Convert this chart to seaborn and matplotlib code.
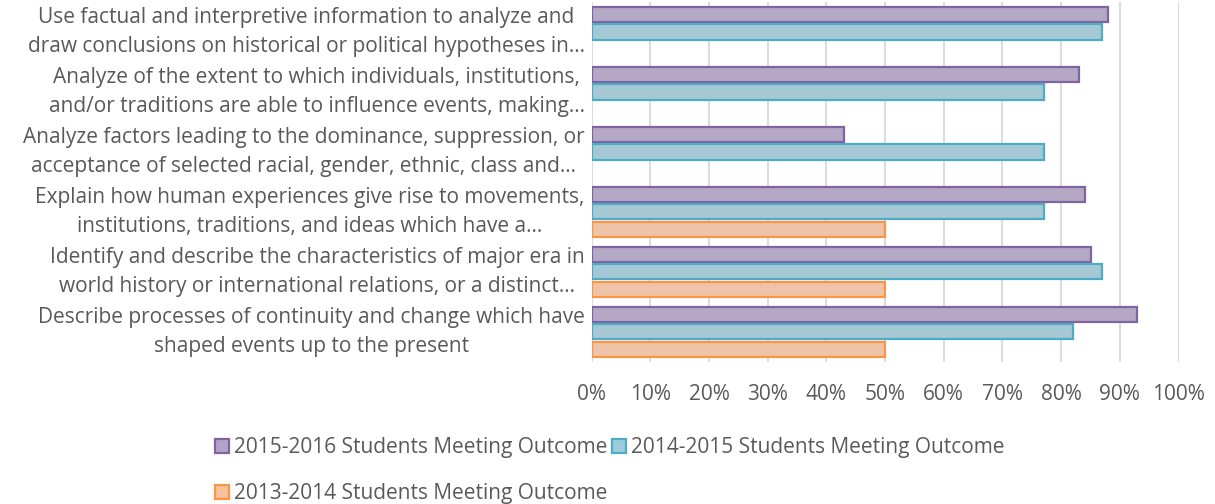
import numpy as np
import pandas as pd
import matplotlib.pyplot as plt
import seaborn as sns
from matplotlib.patches import Patch
from matplotlib.ticker import PercentFormatter

categories = [
    "Use factual and interpretive information to analyze and\ndraw conclusions on historical or political hypotheses in…",
    "Analyze of the extent to which individuals, institutions,\nand/or traditions are able to influence events, making…",
    "Analyze factors leading to the dominance, suppression, or\nacceptance of selected racial, gender, ethnic, class and…",
    "Explain how human experiences give rise to movements,\ninstitutions, traditions, and ideas which have a…",
    "Identify and describe the characteristics of major era in\nworld history or international relations, or a distinct…",
    "Describe processes of continuity and change which have\nshaped events up to the present",
]
series = [
    "2015-2016 Students Meeting Outcome",
    "2014-2015 Students Meeting Outcome",
    "2013-2014 Students Meeting Outcome",
]
vals_2015_16 = [0.88, 0.83, 0.43, 0.84, 0.85, 0.93]
vals_2014_15 = [0.87, 0.77, 0.77, 0.77, 0.87, 0.82]
vals_2013_14 = [np.nan, np.nan, np.nan, 0.50, 0.50, 0.50]

fills = ["#B3A3C9", "#9ECCDD", "#FAC19B"]
edges = ["#8064A2", "#4BACC6", "#F79646"]
TEXT = "#595959"

rows = []
for s, vals in zip(series, [vals_2015_16, vals_2014_15, vals_2013_14]):
    for c, v in zip(categories, vals):
        rows.append({"Outcome": c, "Series": s, "Value": v})
df = pd.DataFrame(rows)

sns.set_style("white")
plt.rcParams["font.family"] = ["Open Sans", "DejaVu Sans"]

fig = plt.figure(figsize=(12.15, 5.04), dpi=100)
ax = fig.add_axes([0.487, 0.282, 0.483, 0.714])

sns.barplot(data=df, y="Outcome", x="Value", hue="Series", order=categories,
            hue_order=series, palette=fills, orient="h", width=0.88, gap=0.14,
            legend=False, ax=ax)

for cont, ec in zip(ax.containers, edges):
    for bar in cont:
        bar.set_edgecolor(ec)
        bar.set_linewidth(1.6)

ax.set_xlim(0, 1)
ax.set_ylim(5.5, -0.5)
ax.set_xticks(np.linspace(0, 1, 11))
ax.xaxis.set_major_formatter(PercentFormatter(1.0, decimals=0))
ax.grid(axis="x", color="#D9D9D9", linewidth=1.3)
ax.set_axisbelow(True)
for sp in ax.spines.values():
    sp.set_visible(False)
ax.tick_params(axis="both", length=0, labelsize=15, colors=TEXT)
ax.tick_params(axis="x", pad=16)
ax.tick_params(axis="y", pad=5)
for lab in ax.get_yticklabels():
    lab.set_multialignment("center")
    lab.set_linespacing(1.5)
    lab.set_verticalalignment("center")
ax.set_xlabel("")
ax.set_ylabel("")

handles = [Patch(facecolor=f, edgecolor=e, linewidth=1.6) for f, e in zip(fills, edges)]
order = [0, 2, 1]
fig.legend([handles[i] for i in order], [series[i] for i in order],
           loc="upper left", bbox_to_anchor=(0.177, 0.133), ncol=2, frameon=False,
           fontsize=15, labelcolor=TEXT, handlelength=0.65, handleheight=0.65,
           handletextpad=0.25, columnspacing=0.25, labelspacing=1.2, borderaxespad=0,
           borderpad=0)

fig.savefig("out.png", dpi=100)
